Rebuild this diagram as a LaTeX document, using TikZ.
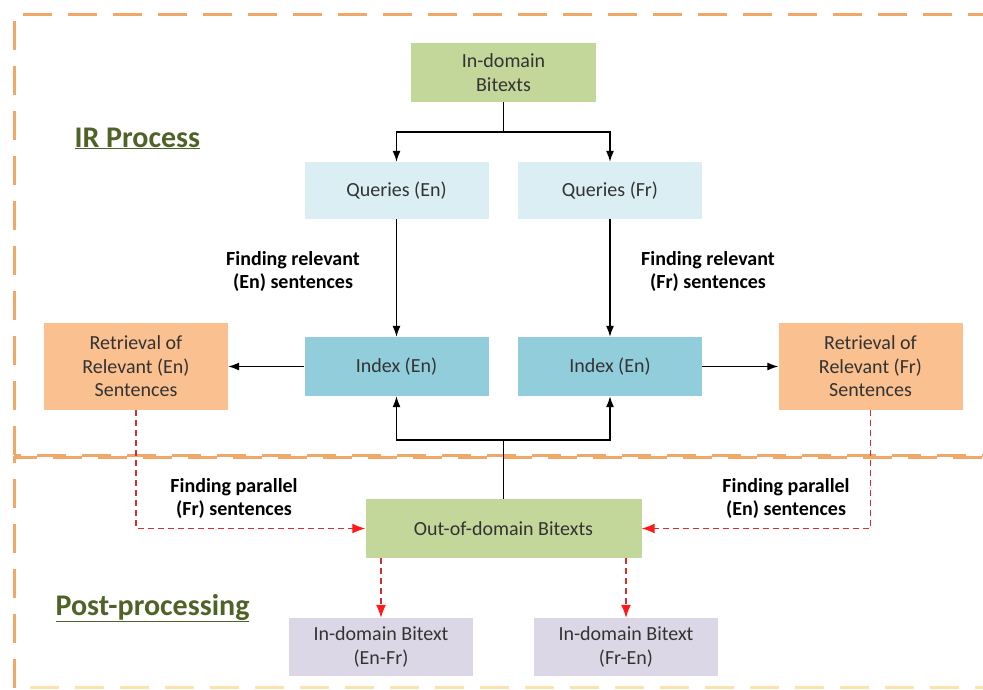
\documentclass[tikz,border=0pt]{standalone}
\usepackage{fontspec}
\setmainfont{Carlito}
\usepackage{tikz}
\usetikzlibrary{arrows.meta}
\definecolor{bgreen}{HTML}{C4D79B}
\definecolor{qblue}{HTML}{DAEEF3}
\definecolor{iblue}{HTML}{92CDDC}
\definecolor{rorange}{HTML}{FAC090}
\definecolor{lilac}{HTML}{DCD7E6}
\definecolor{frameor}{HTML}{F0A868}
\definecolor{frameyel}{HTML}{FBE3B0}
\definecolor{tgreen}{HTML}{4F6228}
\definecolor{boxtxt}{HTML}{333333}
\definecolor{pline}{HTML}{D03030}
\definecolor{ptip}{HTML}{FF1A1A}

\begin{document}
\begin{tikzpicture}[x=1pt,y=-1pt,
  blk/.style n args={3}{fill=#1,minimum width=#2pt,minimum height=#3pt,inner sep=0pt,align=center,text=boxtxt,font=\fontsize{20}{23.5}\selectfont},
  lbl/.style={align=center,font=\bfseries\fontsize{20}{23}\selectfont},
  ttl/.style={anchor=base west,text=tgreen,font=\bfseries\fontsize{30}{36}\selectfont},
  frm/.style={draw=frameor,line width=3pt,dash pattern=on 29pt off 16pt},
  conn/.style={line width=1.3pt,-{Latex[length=11pt,width=8pt]}},
  par/.style={draw=pline,line width=1.2pt,dash pattern=on 6pt off 4pt,-{Latex[length=13pt,width=10pt,color=ptip]}}]
\useasboundingbox (0,0) rectangle (983,689);
% frames
\draw[frm] (14,455) -- (14,14) -- (1000,14);
\draw[frm,dash phase=22pt] (14,455) -- (1000,455);
\draw[frm] (14,688) -- (14,457) -- (1000,457);
\draw[frm,draw=frameyel] (30,687) -- (1000,687);
\node[ttl] (irt) at (71,147) {\underline{IR Process}};
\node[ttl] (ppt) at (52,615) {\underline{Post-processing}};
% boxes
\node[blk={bgreen}{185}{59}] (inbit) at (503.5,72.5) {In-domain\\Bitexts};
\node[blk={qblue}{184}{57}] (qen) at (396.5,190.5) {Queries (En)};
\node[blk={qblue}{184}{57}] (qfr) at (610,190.5) {Queries (Fr)};
\node[blk={iblue}{184}{59}] (iden) at (396.5,366.5) {Index (En)};
\node[blk={iblue}{184}{59}] (idfr) at (610,366.5) {Index (En)};
\node[blk={rorange}{184}{87}] (reten) at (136,366.5) {Retrieval of\\Relevant (En)\\Sentences};
\node[blk={rorange}{184}{87}] (retfr) at (870.5,366.5) {Retrieval of\\Relevant (Fr)\\Sentences};
\node[blk={bgreen}{276}{59}] (outbit) at (503.5,528.5) {Out-of-domain Bitexts};
\node[blk={lilac}{184}{58}] (resen) at (381,647) {In-domain Bitext\\(En-Fr)};
\node[blk={lilac}{184}{58}] (resfr) at (626,647) {In-domain Bitext\\(Fr-En)};
% labels
\node[lbl] (fren) at (293,271) {Finding relevant\\(En) sentences};
\node[lbl] (frfr) at (708,271) {Finding relevant\\(Fr) sentences};
\node[lbl] (fpfr) at (234,498.5) {Finding parallel\\(Fr) sentences};
\node[lbl] (fpen) at (786,498.5) {Finding parallel\\(En) sentences};
% connectors
\coordinate (topfork) at (503.5,132);
\coordinate (botfork) at (503.5,440);
\draw[line width=1.3pt] (inbit.south) -- (topfork);
\foreach \q in {qen,qfr} {
  \draw[conn] (topfork) -| (\q.north);
}
\draw[conn] (qen) -- (iden);
\draw[conn] (qfr) -- (idfr);
\draw[conn] (iden) -- (reten);
\draw[conn] (idfr) -- (retfr);
\draw[line width=1.3pt] (outbit.north) -- (botfork);
\foreach \i in {iden,idfr} {
  \draw[conn] (botfork) -| (\i.south);
}
\draw[par] (reten.south) |- (outbit.west);
\draw[par] (retfr.south) |- (outbit.east);
\foreach \r in {resen,resfr} {
  \draw[par] (outbit.south -| \r.north) -- (\r.north);
}
\end{tikzpicture}
\end{document}
